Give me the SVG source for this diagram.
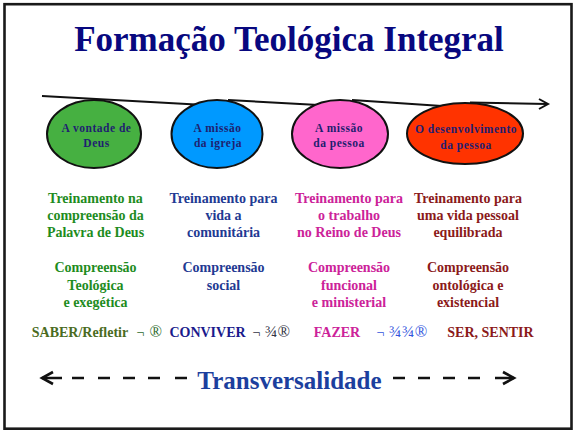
<svg xmlns="http://www.w3.org/2000/svg" width="574" height="431" viewBox="0 0 574 431">
<style>
text{font-family:'Liberation Serif','DejaVu Serif',serif;font-weight:bold;text-anchor:middle}
.title{font-size:35px;fill:#08087f}
.el{stroke:#111;stroke-width:2}
.et{font-size:11.5px;letter-spacing:0.5px;fill:#1f1f70}
.c{font-size:14px}
.g{fill:#1e8c1e}.b{fill:#1f3a93}.m{fill:#cc2299}.r{fill:#8b1a1a}
.sym{font-weight:normal;text-anchor:start;font-size:14px}
.sy2{font-weight:normal;text-anchor:start;font-size:16.5px}
.ln{fill:none;stroke:#111;stroke-width:2;stroke-linecap:butt}
.dl{fill:none;stroke:#111;stroke-width:2.6}
</style>
<rect x="4.5" y="4.2" width="567" height="424.5" fill="#fff" stroke="#1a1a1a" stroke-width="2.6"/>
<text class="title" x="289" y="51">Formação Teológica Integral</text>

<g id="connectors">
  <path class="ln" d="M42,96 L232,106.5 M228,100 L332,105.8 M352,100 L442,106 M470,102.5 L547,104"/>
  <path class="ln" d="M539,99 L548,104 L539,109"/>
  <path class="dl" d="M42,378 H62 M72,378 H84 M98,378 H110 M123,378 H135 M148,378 H160 M175,378 H187"/>
  <path class="dl" d="M53,372 L42,378 L53,384"/>
  <path class="dl" d="M393,378 H405 M418,378 H430 M443,378 H455 M468,378 H480 M495,378 H514"/>
  <path class="dl" d="M503,372 L514,378 L503,384"/>
</g>

<g id="node-vontade">
  <ellipse class="el" cx="94" cy="134" rx="47" ry="34" fill="#46b041"/>
  <text class="et" x="96.5" y="132">A vontade de</text>
  <text class="et" x="96.5" y="147">Deus</text>
</g>
<g id="node-igreja">
  <ellipse class="el" cx="217" cy="134" rx="45.5" ry="34" fill="#0099ff"/>
  <text class="et" x="217.5" y="132">A missão</text>
  <text class="et" x="218" y="147">da igreja</text>
</g>
<g id="node-pessoa">
  <ellipse class="el" cx="340" cy="134" rx="48" ry="34" fill="#ff66cc"/>
  <text class="et" x="339" y="132">A missão</text>
  <text class="et" x="339" y="147">da pessoa</text>
</g>
<g id="node-desenvolvimento">
  <ellipse class="el" cx="465" cy="133.5" rx="58" ry="30.5" fill="#ff3300"/>
  <text class="et" x="466" y="132.5">O desenvolvimento</text>
  <text class="et" x="466" y="149">da pessoa</text>
</g>

<g id="col-1">
  <text class="c g" x="95.5" y="203">Treinamento na</text>
  <text class="c g" x="95.5" y="220">compreensão da</text>
  <text class="c g" x="95.5" y="237">Palavra de Deus</text>
  <text class="c g" x="95.5" y="272">Compreensão</text>
  <text class="c g" x="95.5" y="289.5">Teológica</text>
  <text class="c g" x="95.5" y="306.5">e exegética</text>
</g>
<g id="col-2">
  <text class="c b" x="223.5" y="203">Treinamento para</text>
  <text class="c b" x="223.5" y="220">vida a</text>
  <text class="c b" x="223.5" y="237">comunitária</text>
  <text class="c b" x="223.5" y="272">Compreensão</text>
  <text class="c b" x="223.5" y="289.5">social</text>
</g>
<g id="col-3">
  <text class="c m" x="349" y="203">Treinamento para</text>
  <text class="c m" x="349" y="220">o trabalho</text>
  <text class="c m" x="349" y="237">no Reino de Deus</text>
  <text class="c m" x="349" y="272">Compreensão</text>
  <text class="c m" x="349" y="289.5">funcional</text>
  <text class="c m" x="349" y="306.5">e ministerial</text>
</g>
<g id="col-4">
  <text class="c r" x="468" y="203">Treinamento para</text>
  <text class="c r" x="468" y="220">uma vida pessoal</text>
  <text class="c r" x="468" y="237">equilibrada</text>
  <text class="c r" x="468" y="272">Compreensão</text>
  <text class="c r" x="468" y="289.5">ontológica e</text>
  <text class="c r" x="468" y="306.5">existencial</text>
</g>

<g id="row-verbs">
  <text class="c" x="80" y="336.5" fill="#4a6b22">SABER/Refletir</text>
  <text class="sym" x="136.5" y="336.5" fill="#2e6b2e">¬</text>
  <text class="sy2" x="149.5" y="337" fill="#2e6b2e">®</text>
  <text class="c" x="207.5" y="336.5" fill="#1a1a8c">CONVIVER</text>
  <text class="sym" x="252.5" y="336.5" fill="#333344">¬</text>
  <text class="sy2" x="265" y="337" fill="#333344">¾®</text>
  <text class="c m" x="337" y="336.5">FAZER</text>
  <text class="sym" x="376.5" y="336.5" fill="#3355dd">¬</text>
  <text class="sy2" x="389" y="337" fill="#3355dd" letter-spacing="0.5">¾¾®</text>
  <text class="c r" x="490.5" y="336.5">SER, SENTIR</text>
</g>

<text x="289.5" y="389" font-size="25" fill="#1c3f9e">Transversalidade</text>
</svg>
